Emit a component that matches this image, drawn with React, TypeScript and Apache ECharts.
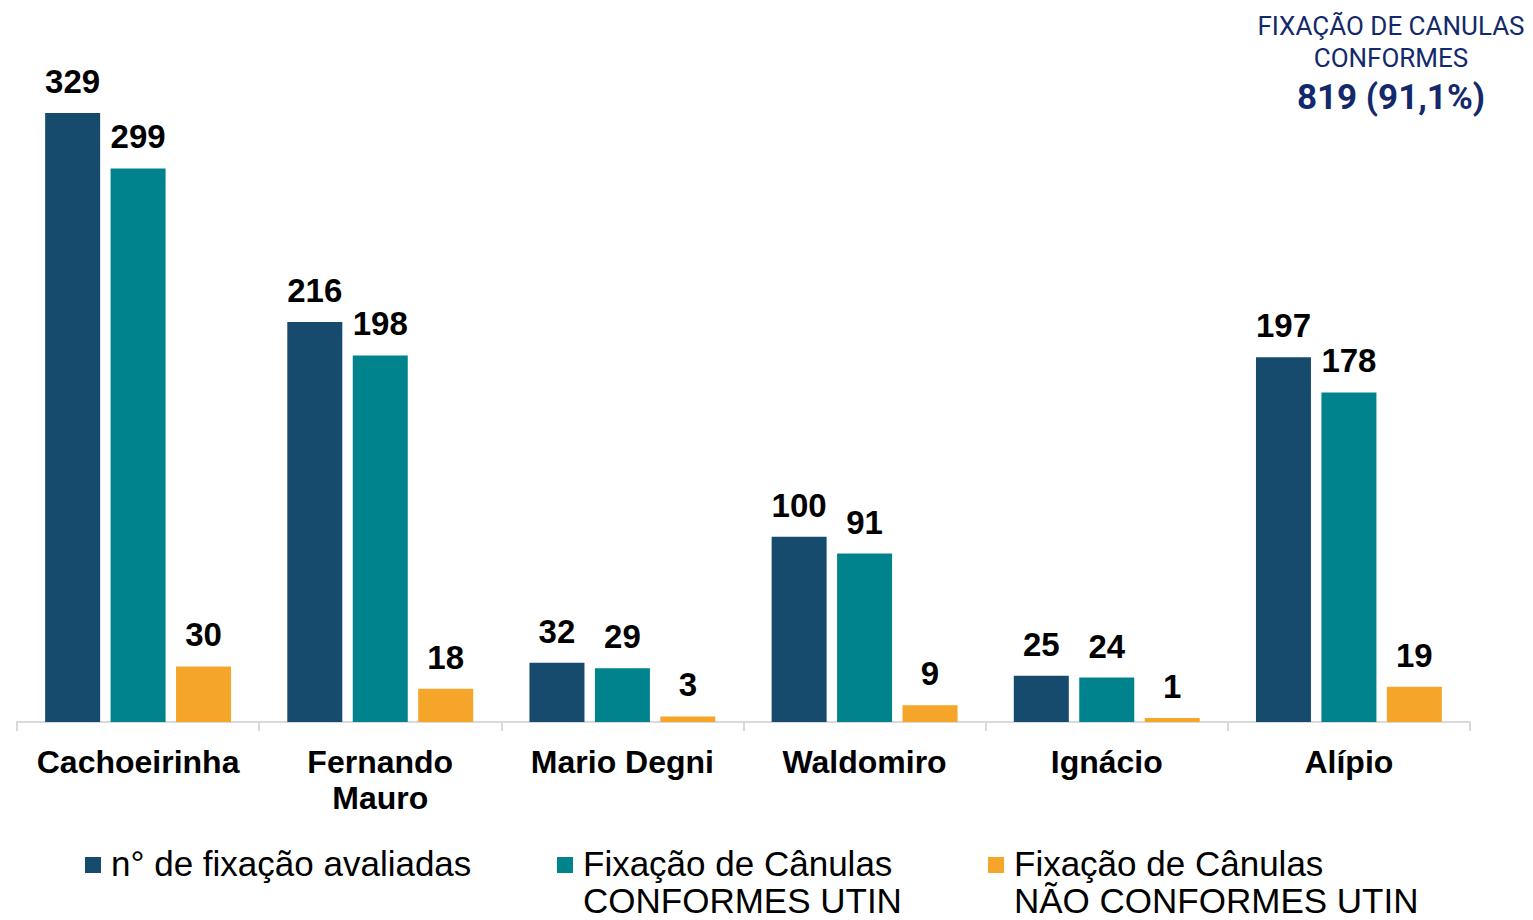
import React, { useEffect, useRef } from "react";
import * as echarts from "echarts";

const categories = ["Cachoeirinha", "Fernando\nMauro", "Mario Degni", "Waldomiro", "Ignácio", "Alípio"];
const avaliadas = [329, 216, 32, 100, 25, 197];
const conformes = [299, 198, 29, 91, 24, 178];
const naoConformes = [30, 18, 3, 9, 1, 19];
const seriesNames = [
  "n° de fixação avaliadas",
  "Fixação de Cânulas\nCONFORMES UTIN",
  "Fixação de Cânulas\nNÃO CONFORMES UTIN",
];
const seriesColors = ["#174B6E", "#00838D", "#F6A52B"];
const summaryLines = ["FIXAÇÃO DE CANULAS", "CONFORMES"];
const summaryValue = "819 (91,1%)";

const FONT = "'Liberation Sans', Arial, sans-serif";

export default function App() {
  const ref = useRef<HTMLDivElement>(null);
  useEffect(() => {
    if (!ref.current) return;
    const chart = echarts.init(ref.current, null, { renderer: "svg" });
    const data = [avaliadas, conformes, naoConformes];
    const legendX = [85, 557, 988];
    const legendGraphics: any[] = [];
    seriesNames.forEach((name, i) => {
      legendGraphics.push({
        type: "rect",
        left: legendX[i],
        top: 857,
        shape: { width: 16, height: 16 },
        style: { fill: seriesColors[i] },
      });
      legendGraphics.push({
        type: "text",
        x: legendX[i] + 26,
        y: 845,
        style: {
          text: name,
          fill: "#000",
          font: `35px ${FONT}`,
          verticalAlign: "top",
          lineHeight: 37,
        },
      });
    });
    chart.setOption({
      animation: false,
      grid: { left: 17, right: 63, top: 74, bottom: 198 },
      xAxis: {
        type: "category",
        data: categories,
        axisLine: { show: true, lineStyle: { color: "#D9D9D9", width: 2 } },
        axisTick: { show: true, length: 9, lineStyle: { color: "#D9D9D9", width: 2 } },
        axisLabel: {
          color: "#000",
          fontFamily: FONT,
          fontWeight: "bold",
          fontSize: 32,
          lineHeight: 36,
          margin: 22,
          interval: 0,
        },
      },
      yAxis: { type: "value", min: 0, max: 350, show: false, splitLine: { show: false } },
      series: data.map((d, i) => ({
        type: "bar",
        name: seriesNames[i],
        data: d,
        barWidth: 55,
        barGap: "19%",
        barMinHeight: i === 2 ? 4 : 0,
        itemStyle: { color: seriesColors[i] },
        label: {
          show: true,
          position: "top",
          distance: 15,
          color: "#000",
          fontFamily: FONT,
          fontWeight: "bold",
          fontSize: 33,
        },
      })),
      graphic: [
        {
          type: "text",
          x: 1391,
          y: 10,
          style: {
            text: summaryLines.join("\n"),
            fill: "#13296B",
            font: "26px Roboto, sans-serif",
            align: "center",
            verticalAlign: "top",
            lineHeight: 32,
          },
        },
        {
          type: "text",
          x: 1391,
          y: 97,
          style: {
            text: summaryValue,
            fill: "#13296B",
            font: "bold 35px Roboto, sans-serif",
            align: "center",
            verticalAlign: "middle",
          },
        },
        ...legendGraphics,
      ],
    });
    return () => chart.dispose();
  }, []);
  return (
    <div
      ref={ref}
      style={{ position: "absolute", left: 0, top: 0, width: 1533, height: 920 }}
    />
  );
}
